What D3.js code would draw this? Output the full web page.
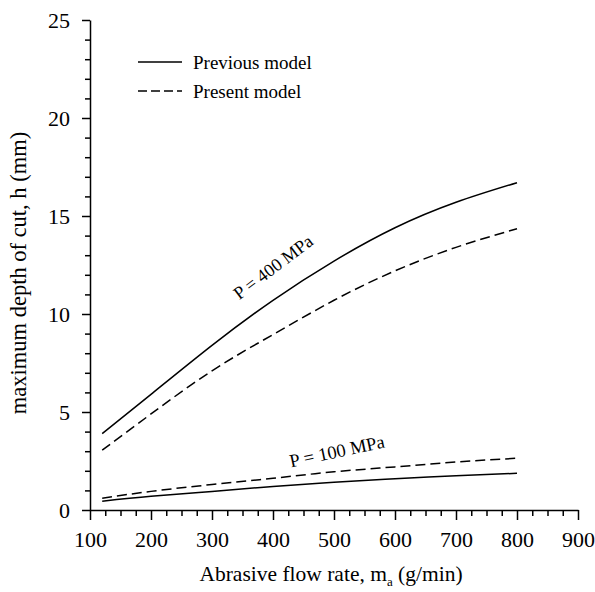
<!DOCTYPE html>
<html>
<head>
<meta charset="utf-8">
<script src="https://cdn.jsdelivr.net/npm/d3@7"></script>
<style>
  body { margin: 0; background: #fff; }
  svg text { font-family: "Liberation Serif", "Times New Roman", serif; fill: #000; }
  .axis path, .axis line { stroke: #000; stroke-width: 1.5; }
</style>
</head>
<body>
<svg id="chart" width="595" height="592"></svg>
<script>
// Data
const flowRate = [120, 200, 300, 400, 500, 600, 700, 800];
const prev400 = [3.9, 5.9, 8.4, 10.7, 12.7, 14.4, 15.7, 16.7];
const pres400 = [3.05, 4.9, 7.1, 8.95, 10.7, 12.2, 13.4, 14.35];
const prev100 = [0.45, 0.7, 0.95, 1.2, 1.42, 1.6, 1.75, 1.87];
const pres100 = [0.6, 0.95, 1.3, 1.62, 1.95, 2.2, 2.45, 2.64];

const xMajor = [100, 200, 300, 400, 500, 600, 700, 800, 900];
const yMajor = [0, 5, 10, 15, 20, 25];

const series = [
  { values: prev400, dashed: false },
  { values: pres400, dashed: true },
  { values: prev100, dashed: false },
  { values: pres100, dashed: true }
];

const legendItems = [
  { label: "Previous model", dashed: false },
  { label: "Present model", dashed: true }
];

// Layout
const margin = { top: 20, right: 17, bottom: 82, left: 90 };
const width = 595, height = 592;

const svg = d3.select("#chart");

const x = d3.scaleLinear().domain([100, 900]).range([margin.left, width - margin.right]);
const y = d3.scaleLinear().domain([0, 25]).range([height - margin.bottom, margin.top]);

// Minor ticks
const xMinor = d3.range(100, 901, 25).filter(v => v % 100 !== 0);
const yMinor = d3.range(0, 26, 1).filter(v => v % 5 !== 0);

svg.append("g")
  .attr("class", "axis")
  .attr("transform", `translate(0,${y(0)})`)
  .call(d3.axisBottom(x).tickValues(xMinor).tickSize(6).tickFormat(""))
  .call(g => g.select(".domain").remove());

svg.append("g")
  .attr("class", "axis")
  .attr("transform", `translate(${x(100)},0)`)
  .call(d3.axisLeft(y).tickValues(yMinor).tickSize(5).tickFormat(""))
  .call(g => g.select(".domain").remove());

// Major axes
const xAxis = svg.append("g")
  .attr("class", "axis")
  .attr("transform", `translate(0,${y(0)})`)
  .call(d3.axisBottom(x).tickValues(xMajor).tickSize(10).tickSizeOuter(0).tickPadding(11));
xAxis.selectAll("text").style("font-size", "22px");

const yAxis = svg.append("g")
  .attr("class", "axis")
  .attr("transform", `translate(${x(100)},0)`)
  .call(d3.axisLeft(y).tickValues(yMajor).tickSize(8).tickSizeOuter(0).tickPadding(12));
yAxis.selectAll("text").style("font-size", "22px");

// Curves
const line = d3.line()
  .x((d, i) => x(flowRate[i]))
  .y(d => y(d))
  .curve(d3.curveNatural);

svg.selectAll("path.curve")
  .data(series)
  .enter().append("path")
  .attr("class", "curve")
  .attr("d", d => line(d.values))
  .attr("fill", "none")
  .attr("stroke", "#000")
  .attr("stroke-width", 1.5)
  .attr("stroke-dasharray", d => d.dashed ? "10,5" : null);

// Curve labels
svg.append("text")
  .attr("transform", `translate(273,267) rotate(-37)`)
  .attr("text-anchor", "middle")
  .attr("dy", "0.35em")
  .style("font-size", "18px")
  .text("P = 400 MPa");

svg.append("text")
  .attr("transform", `translate(337,451) rotate(-12)`)
  .attr("text-anchor", "middle")
  .attr("dy", "0.35em")
  .style("font-size", "18.5px")
  .text("P = 100 MPa");

// Legend
const legend = svg.append("g").attr("transform", "translate(138,62)");
legendItems.forEach((d, i) => {
  const g = legend.append("g").attr("transform", `translate(0,${i * 29})`);
  g.append("line")
    .attr("x1", 0).attr("x2", 44)
    .attr("stroke", "#000").attr("stroke-width", 1.5)
    .attr("stroke-dasharray", d.dashed ? "9,4" : null);
  g.append("text")
    .attr("x", 55).attr("dy", "0.35em")
    .style("font-size", "19px")
    .text(d.label);
});

// Axis titles
const xTitle = svg.append("text")
  .attr("x", 331)
  .attr("y", 581)
  .attr("text-anchor", "middle")
  .style("font-size", "21.5px");
xTitle.append("tspan").text("Abrasive flow rate, m");
xTitle.append("tspan").attr("dy", 5).style("font-size", "13px").text("a");
xTitle.append("tspan").attr("dy", -5).text(" (g/min)");

svg.append("text")
  .attr("transform", `translate(26,273) rotate(-90)`)
  .attr("text-anchor", "middle")
  .style("font-size", "22.5px")
  .text("maximum depth of cut, h (mm)");
</script>
</body>
</html>
